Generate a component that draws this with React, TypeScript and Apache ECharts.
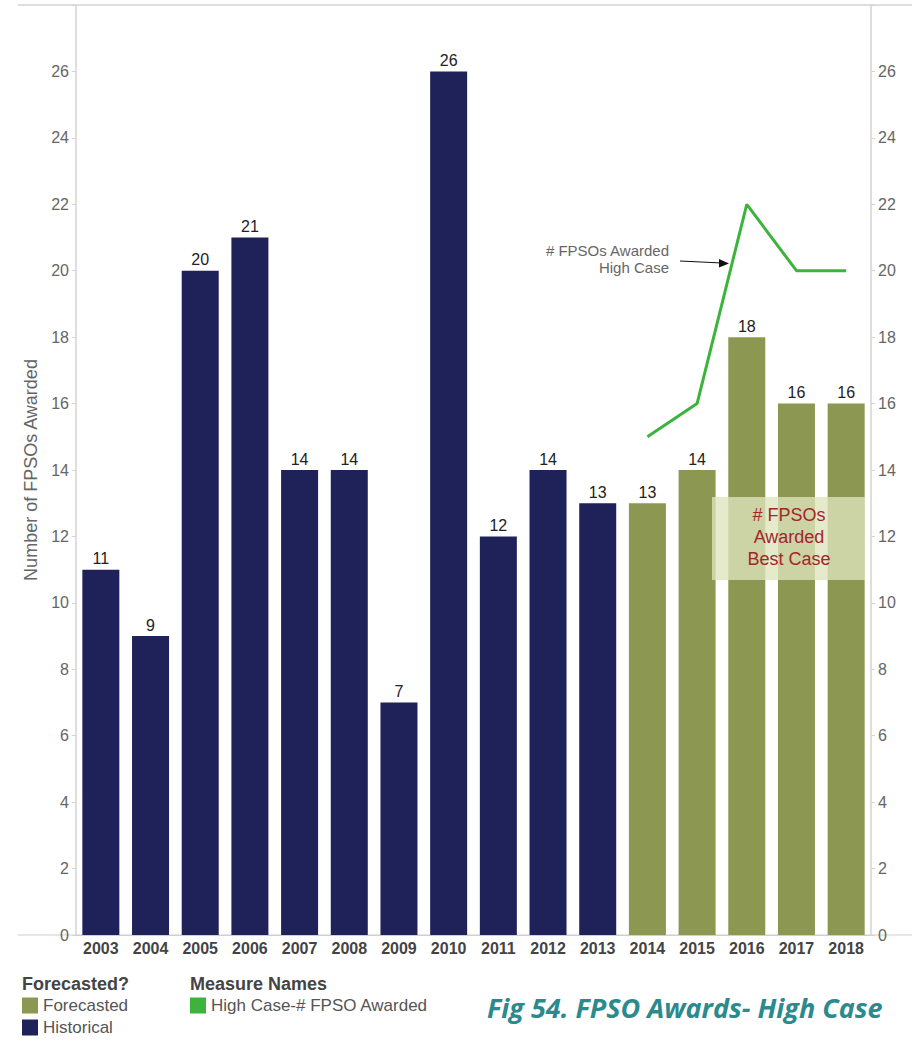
import React, { useEffect, useRef } from "react";
import * as echarts from "echarts";

const years = ["2003","2004","2005","2006","2007","2008","2009","2010","2011","2012","2013","2014","2015","2016","2017","2018"];
const historical = [11, 9, 20, 21, 14, 14, 7, 26, 12, 14, 13, "-", "-", "-", "-", "-"];
const forecasted = ["-", "-", "-", "-", "-", "-", "-", "-", "-", "-", "-", 13, 14, 18, 16, 16];
const highCase = ["-", "-", "-", "-", "-", "-", "-", "-", "-", "-", "-", 15, 16, 22, 20, 20];

const NAVY = "#1f2159";
const OLIVE = "#8c9752";
const GREEN = "#3db33d";
const FONT = "Liberation Sans, Arial, sans-serif";

export default function App() {
  const ref = useRef<HTMLDivElement>(null);
  useEffect(() => {
    const chart = echarts.init(ref.current!, null, { renderer: "svg" });
    const labelStyle = {
      show: true,
      position: "top",
      color: "#222",
      fontSize: 16,
      fontFamily: FONT,
      distance: 3,
    };
    const yAxisCommon = {
      type: "value",
      min: 0,
      max: 28,
      interval: 2,
      splitLine: { show: false },
      axisLine: { show: true, lineStyle: { color: "#d8d2d2", width: 1.5 } },
      axisTick: { show: true, length: 4, lineStyle: { color: "#d8d2d2" } },
      axisLabel: {
        color: "#666",
        fontSize: 16,
        fontFamily: FONT,
        margin: 7,
        formatter: (v: number) => (v === 28 ? "" : String(v)),
      },
    };
    const legendText = { color: "#555", fontSize: 17, fontFamily: FONT };
    chart.setOption({
      animation: false,
      grid: { left: 76, right: 41, top: 5, bottom: 105 },
      xAxis: {
        type: "category",
        data: years,
        axisLine: { show: true, lineStyle: { color: "#cfcfcf" } },
        axisTick: { show: false },
        axisLabel: {
          color: "#444",
          fontSize: 16,
          fontWeight: "bold",
          fontFamily: FONT,
          margin: 5,
        },
      },
      yAxis: [
        {
          ...yAxisCommon,
          position: "left",
          name: "Number of FPSOs Awarded",
          nameLocation: "middle",
          nameRotate: 90,
          nameGap: 29,
          nameTextStyle: { color: "#666", fontSize: 18, fontFamily: FONT },
        },
        { ...yAxisCommon, position: "right" },
      ],
      legend: [
        {
          data: ["Forecasted", "Historical"],
          orient: "vertical",
          left: 22,
          top: 997,
          height: 60,
          padding: 0,
          itemGap: 5,
          itemWidth: 16,
          itemHeight: 16,
          icon: "rect",
          textStyle: legendText,
        },
        {
          data: ["High Case-# FPSO Awarded"],
          orient: "vertical",
          left: 190,
          top: 997,
          height: 40,
          padding: 0,
          itemWidth: 16,
          itemHeight: 16,
          icon: "rect",
          textStyle: legendText,
        },
      ],
      series: [
        {
          name: "Historical",
          type: "bar",
          stack: "a",
          data: historical,
          barWidth: 37,
          itemStyle: { color: NAVY },
          label: labelStyle,
        },
        {
          name: "Forecasted",
          type: "bar",
          stack: "a",
          data: forecasted,
          barWidth: 37,
          itemStyle: { color: OLIVE },
          label: labelStyle,
        },
        {
          name: "High Case-# FPSO Awarded",
          type: "line",
          data: highCase,
          showSymbol: false,
          symbol: "none",
          itemStyle: { color: GREEN },
          lineStyle: { color: GREEN, width: 3 },
          z: 5,
        },
      ],
      graphic: [
        { type: "line", shape: { x1: 18, y1: 5, x2: 912, y2: 5 }, style: { stroke: "#dedede", lineWidth: 2 } },
        { type: "line", shape: { x1: 18, y1: 935, x2: 912, y2: 935 }, style: { stroke: "#cfcfcf", lineWidth: 1 } },
        {
          type: "text",
          x: 22,
          y: 975,
          style: { text: "Forecasted?", fill: "#444", font: `bold 18px ${FONT}` },
        },
        {
          type: "text",
          x: 190,
          y: 975,
          style: { text: "Measure Names", fill: "#444", font: `bold 18px ${FONT}` },
        },
        {
          type: "text",
          x: 487,
          y: 994,
          style: {
            text: "Fig 54. FPSO Awards- High Case",
            fill: "#2b8a8c",
            font: `italic bold 27px "Open Sans", sans-serif`,
          },
        },
        {
          type: "text",
          x: 669,
          y: 242,
          style: {
            text: "# FPSOs Awarded\nHigh Case",
            fill: "#666",
            font: `15px ${FONT}`,
            align: "right",
            lineHeight: 17,
          },
        },
        { type: "line", shape: { x1: 680, y1: 261, x2: 722, y2: 263 }, style: { stroke: "#111", lineWidth: 1.2 } },
        { type: "polygon", shape: { points: [[729, 263.5], [719, 259], [719, 267.5]] }, style: { fill: "#111" } },
        {
          type: "rect",
          shape: { x: 712, y: 497, width: 153, height: 83 },
          style: { fill: "rgba(222,228,188,0.78)" },
          z: 10,
        },
        {
          type: "text",
          x: 789,
          y: 504,
          z: 11,
          style: {
            text: "# FPSOs\nAwarded\nBest Case",
            fill: "#a3262a",
            font: `18px ${FONT}`,
            align: "center",
            lineHeight: 22,
          },
        },
      ],
    });
    return () => chart.dispose();
  }, []);
  return (
    <div
      ref={ref}
      style={{ position: "fixed", left: 0, top: 0, width: 912, height: 1040, background: "#fff" }}
    />
  );
}
